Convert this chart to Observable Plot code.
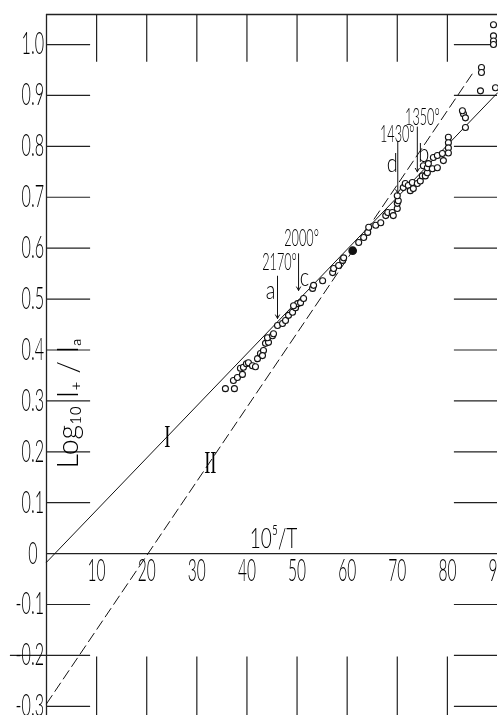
<!DOCTYPE html>
<html><head><meta charset="utf-8">
<script src="https://cdn.jsdelivr.net/npm/d3@7"></script>
<script src="https://cdn.jsdelivr.net/npm/@observablehq/plot@0.6"></script>
<style>html,body{margin:0;padding:0;background:#fff;} svg{display:block;will-change:transform;}</style>
</head><body><div id="chart"></div>
<script>
// observed points: x = 10^5/T, y = log10 I+/Ia
const obsX = [35.7,37.5,37.3,38.1,39.1,38.7,39.3,39.9,40.3,41.1,41.7,42.1,42.7,43.3,43.1,43.7,44.3,44.1,45.1,45.3,46.1,47.1,47.7,48.3,49.1,49.7,50.1,49.3,50.7,51.3,53.1,53.3,55.1,57.1,57.3,58.3,59.1,59.3,62.3,63.3,64.1,64.3,65.7,66.7,67.7,68.1,69.0,69.2,70.0,70.0,70.2,70.0,71.2,71.6,72.2,73.0,72.6,73.2,74.0,74.6,75.0,75.6,76.0,75.2,76.0,76.2,77.0,78.0,77.2,78.0,79.0,79.2,80.2,80.2,80.2,80.2,83.6,83.2,83.0,83.6,86.6,86.8,86.8,89.6,89.2,89.2,89.2,89.2];
const obsY = [0.324,0.324,0.340,0.346,0.352,0.364,0.366,0.373,0.375,0.369,0.367,0.383,0.393,0.399,0.389,0.413,0.415,0.424,0.428,0.432,0.448,0.452,0.458,0.468,0.474,0.483,0.491,0.487,0.493,0.501,0.521,0.527,0.536,0.552,0.560,0.566,0.576,0.581,0.611,0.621,0.631,0.641,0.645,0.650,0.664,0.670,0.670,0.664,0.678,0.688,0.693,0.703,0.719,0.727,0.723,0.729,0.713,0.717,0.727,0.732,0.742,0.742,0.748,0.762,0.758,0.766,0.756,0.758,0.778,0.782,0.786,0.772,0.818,0.807,0.797,0.787,0.837,0.864,0.870,0.856,0.909,0.955,0.945,0.915,1.039,1.017,1.007,1.000];
const refX = [61.1], refY = [0.595];           // filled reference point
const lineIX = [0, 90], lineIY = [-0.017, 0.905];
const lineIIX = [0, 85], lineIIY = [-0.295, 0.943];
const xTicks = [10,20,30,40,50,60,70,80,90];
const xTickMarks = [10,20,30,40,50,60,70,80];
const yTicks = [-0.3,-0.2,-0.1,0,0.1,0.2,0.3,0.4,0.5,0.6,0.7,0.8,0.9,1.0];
const yTickLabels = ["-0.3","-0.2","-0.1","0","0.1","0.2","0.3","0.4","0.5","0.6","0.7","0.8","0.9","1.0"];
const annoText = ["2170°","2000°","1430°","1350°"];
const annoX = [46.5, 50.9, 70.0, 75.0];
const annoY = [0.572, 0.619, 0.823, 0.857];
const letterText = ["a","c","d","b"];
const letterX = [44.7, 51.5, 69.0, 75.3];
const letterY = [0.515, 0.542, 0.766, 0.784];
const arrowX = [46.1, 50.3, 70.1, 74.0];
const arrowY1 = [0.545, 0.589, 0.808, 0.838];
const arrowY2 = [0.462, 0.517, 0.708, 0.750];
const lineLabels = ["I","II"], lineLabelX = [24.1, 32.7], lineLabelY = [0.228, 0.177];

const yTop = 1.059, yBottom = -0.318;
const pts = obsX.map((x,i)=>({x, y: obsY[i]}));
const ref = refX.map((x,i)=>({x, y: refY[i]}));
const lI = lineIX.map((x,i)=>({x, y: lineIY[i]}));
const lII = lineIIX.map((x,i)=>({x, y: lineIIY[i]}));
const yT = yTicks.map((v,i)=>({v, label: yTickLabels[i]}));
const yTnz = yTicks.filter(v => v !== 0);
const anno = annoText.map((t,i)=>({t, x: annoX[i], y: annoY[i]}));
const letters = letterText.map((t,i)=>({t, x: letterX[i], y: letterY[i]}));
const arrows = arrowX.map((x,i)=>({x, y1: arrowY1[i], y2: arrowY2[i]}));
const lls = lineLabels.map((t,i)=>({t, x: lineLabelX[i], y: lineLabelY[i]}));

const sans = "Lato, 'Open Sans', sans-serif";
const textScales = [0.52, 0.5, 0.68, 0.95, 0.55, 0.8, 0.6];

const svg = Plot.plot({
  width: 498, height: 715,
  marginLeft: 46, marginRight: 1, marginTop: 14, marginBottom: 0,
  x: {domain: [0, 90], axis: null},
  y: {domain: [yBottom, yTop], axis: null},
  style: {background: "#fff", overflow: "visible"},
  marks: [
    Plot.ruleY([yTop], {stroke: "#222", strokeWidth: 1.3}),
    Plot.ruleX([0], {stroke: "#222", strokeWidth: 1.3}),
    Plot.ruleY([0], {stroke: "#222", strokeWidth: 1.3}),
    Plot.ruleX(xTickMarks, {y1: 0.965, y2: yTop, stroke: "#222", strokeWidth: 1.2}),
    Plot.ruleX(xTickMarks, {y1: yBottom, y2: -0.203, stroke: "#222", strokeWidth: 1.2}),
    Plot.ruleY(yTnz, {x1: d => d === -0.2 ? -7.2 : 0, x2: 8.8, stroke: "#222", strokeWidth: 1.2}),
    Plot.ruleY(yTnz, {x1: 81.4, x2: 90, stroke: "#222", strokeWidth: 1.2}),
    Plot.line(lI, {x: "x", y: "y", stroke: "#111", strokeWidth: 1}),
    Plot.line(lII, {x: "x", y: "y", stroke: "#111", strokeWidth: 1, strokeDasharray: "10,5"}),
    Plot.dot(pts, {x: "x", y: "y", r: 3, fill: "#fff", stroke: "#111", strokeWidth: 1.1}),
    Plot.dot(ref, {x: "x", y: "y", r: 3.6, fill: "#111", stroke: "#111"}),
    Plot.arrow(arrows, {x1: "x", x2: "x", y1: "y1", y2: "y2", stroke: "#111", strokeWidth: 1, headLength: 6}),
    // text marks (order matters for textScales)
    Plot.text(yT, {x: d => d.v === 0 ? -1.8 : -0.5, y: "v", text: "label", textAnchor: "end", fontSize: 31, fontFamily: sans, fontWeight: 300, fill: "#000"}),
    Plot.text(xTicks, {x: d => d, y: -0.035, text: d => String(d), fontSize: 31, fontFamily: sans, fontWeight: 300, fill: "#000"}),
    Plot.text(["10⁵/T"], {x: 45.3, y: 0.028, text: d => d, fontSize: 28, fontFamily: sans, fontWeight: 300, fill: "#000"}),
    Plot.text(["Log₁₀ I₊ / Iₐ"], {x: 4.4, y: 0.295, text: d => d, rotate: -90, fontSize: 30, fontFamily: sans, fontWeight: 300, fill: "#000"}),
    Plot.text(anno, {x: "x", y: "y", text: "t", fontSize: 23, fontFamily: sans, fontWeight: 300, fill: "#000"}),
    Plot.text(letters, {x: "x", y: "y", text: "t", fontSize: 25, fontFamily: sans, fontWeight: 300, fill: "#000"}),
    Plot.text(lls, {x: "x", y: "y", text: "t", fontSize: 31, fontFamily: "'Liberation Serif', serif", fill: "#000"})
  ]
});

document.getElementById("chart").appendChild(svg);
// condense glyphs horizontally (the original lettering is narrow)
svg.querySelectorAll('g[aria-label="text"]').forEach((g, i) => {
  const s = textScales[i] ?? 1;
  g.querySelectorAll("text").forEach(t => {
    const L = t.getComputedTextLength();
    if (L > 0) {
      t.setAttribute("textLength", (L * s).toFixed(2));
      t.setAttribute("lengthAdjust", "spacingAndGlyphs");
    }
  });
});
</script></body></html>
